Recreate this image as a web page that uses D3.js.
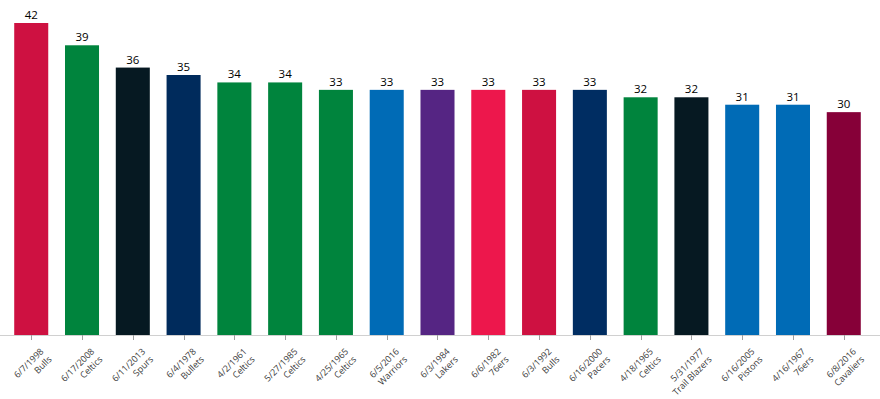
<!DOCTYPE html>
<html>
<head>
<meta charset="utf-8">
<script src="https://cdn.jsdelivr.net/npm/d3@7"></script>
<style>
  body { margin: 0; background: #fff; }
  text { font-family: "Open Sans", "DejaVu Sans", sans-serif; }
</style>
</head>
<body>
<svg id="chart" width="880" height="399"></svg>
<script>
const dates = ["6/7/1998", "6/17/2008", "6/11/2013", "6/4/1978", "4/2/1961", "5/27/1985", "4/25/1965",
  "6/5/2016", "6/3/1984", "6/6/1982", "6/3/1992", "6/16/2000", "4/18/1965", "5/31/1977",
  "6/16/2005", "4/16/1967", "6/8/2016"];
const teams = ["Bulls", "Celtics", "Spurs", "Bullets", "Celtics", "Celtics", "Celtics",
  "Warriors", "Lakers", "76ers", "Bulls", "Pacers", "Celtics", "Trail Blazers",
  "Pistons", "76ers", "Cavaliers"];
const margins = [42, 39, 36, 35, 34, 34, 33, 33, 33, 33, 33, 33, 32, 32, 31, 31, 30];
const barColors = ["#ce1141", "#00843d", "#061922", "#002b5c", "#00843d", "#00843d", "#00843d",
  "#006bb6", "#552583", "#ed174c", "#ce1141", "#002d62", "#00843d", "#061922",
  "#006bb6", "#006bb6", "#860038"];

const data = dates.map((d, i) => ({ date: d, team: teams[i], value: margins[i], color: barColors[i] }));

const svg = d3.select("#chart"),
      width = +svg.attr("width"),
      height = +svg.attr("height");

const baseY = 335, topY = 23;

const x = d3.scaleBand()
    .domain(d3.range(data.length))
    .range([0, 875])
    .paddingInner(0.33)
    .paddingOuter(0.28);

const y = d3.scaleLinear()
    .domain([0, d3.max(margins)])
    .range([baseY, topY]);

// bars
svg.append("g").selectAll("rect")
    .data(data)
    .join("rect")
    .attr("x", (d, i) => x(i))
    .attr("y", d => y(d.value))
    .attr("width", x.bandwidth())
    .attr("height", d => y(0) - y(d.value))
    .attr("fill", d => d.color);

// value labels
svg.append("g").selectAll("text")
    .data(data)
    .join("text")
    .attr("x", (d, i) => x(i) + x.bandwidth() / 2)
    .attr("y", d => y(d.value) - 4)
    .attr("text-anchor", "middle")
    .style("font-size", "11.5px")
    .style("fill", "#000")
    .text(d => d.value);

// axis line + ticks
const axis = svg.append("g");
axis.append("line")
    .attr("x1", 0).attr("x2", width)
    .attr("y1", baseY + 0.5).attr("y2", baseY + 0.5)
    .attr("stroke", "#d0d0d0")
    .attr("stroke-width", 1);

axis.selectAll(".tick")
    .data(data)
    .join("line")
    .attr("class", "tick")
    .attr("x1", (d, i) => Math.round(x(i) + x.bandwidth() / 2) + 0.5)
    .attr("x2", (d, i) => Math.round(x(i) + x.bandwidth() / 2) + 0.5)
    .attr("y1", baseY)
    .attr("y2", baseY + 5)
    .attr("stroke", "#a0a0a0");

// rotated two-line labels
const labels = axis.selectAll(".lbl")
    .data(data)
    .join("text")
    .attr("class", "lbl")
    .attr("transform", (d, i) => `translate(${x(i) + x.bandwidth() / 2 + 13},${baseY + 17}) rotate(-45)`)
    .attr("text-anchor", "end")
    .style("font-size", "9px")
    .style("fill", "#3a3a3a");

labels.append("tspan")
    .attr("x", 0)
    .attr("dy", 0)
    .text(d => d.date);

labels.append("tspan")
    .attr("x", 0)
    .attr("dy", "1.25em")
    .text(d => d.team);
</script>
</body>
</html>
